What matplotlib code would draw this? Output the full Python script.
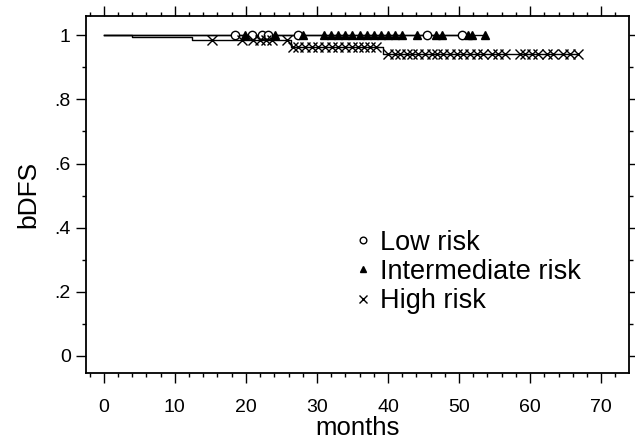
import numpy as np
import matplotlib
matplotlib.use("Agg")
import matplotlib.pyplot as plt
from matplotlib.ticker import MultipleLocator, FixedLocator

# step curves (time of step, survival after step)
low_t = [0, 50.4]
low_s = [1.0, 1.0]
int_t = [0, 53.7]
int_s = [1.0, 1.0]
high_t = [0, 4.0, 12.4, 26.3, 39.3, 66.8]
high_s = [1.0, 0.996, 0.984, 0.962, 0.94, 0.94]

# censored times
low_cens = [18.5, 20.8, 22.3, 23.1, 27.3, 45.5, 50.4]
int_cens = [19.9, 24.1, 28.0, 31.0, 32.0, 33.0, 34.0, 35.0, 36.0, 37.0, 38.0,
            39.0, 40.0, 41.0, 42.0, 44.1, 46.8, 47.6, 51.3, 51.8, 53.7]
high_cens = [15.3, 19.4, 21.0, 22.0, 22.9, 23.7, 25.8, 26.7, 27.3, 28.3, 29.3,
             30.1, 31.1, 32.1, 33.0, 34.0, 34.9, 35.8, 36.6, 37.4, 38.3,
             40.0, 41.0, 41.7, 42.7, 43.4, 44.2, 45.2, 46.2, 46.9, 47.7, 48.7,
             49.7, 50.6, 51.5, 52.5, 53.4, 54.6, 55.5, 56.5, 58.6, 59.3, 60.3,
             61.1, 62.4, 63.2, 64.6, 65.6, 66.8]

labels = ["Low risk", "Intermediate risk", "High risk"]


def surv_at(times, surv, t):
    idx = np.searchsorted(times, t, side="right") - 1
    return np.array(surv)[idx]


plt.rcParams['font.family'] = ['Liberation Sans', 'DejaVu Sans']

fig = plt.figure(figsize=(6.35, 4.44), dpi=100)
ax = fig.add_axes([0.1354, 0.16, 0.855, 0.804])

ax.step(low_t, low_s, where="post", color="black", lw=1.0)
ax.step(int_t, int_s, where="post", color="black", lw=1.0)
ax.step(high_t, high_s, where="post", color="black", lw=1.0)

ax.plot(low_cens, surv_at(low_t, low_s, low_cens), "o", mfc="white",
        mec="black", ms=6, mew=1.0, ls="none", label=labels[0])
ax.plot(int_cens, surv_at(int_t, int_s, int_cens), "^", color="black",
        ms=6, ls="none", label=labels[1])
ax.plot(high_cens, surv_at(high_t, high_s, high_cens), "x", color="black",
        ms=7, mew=1.0, ls="none", label=labels[2])

ax.set_xlim(-2.5, 73.9)
ax.set_ylim(-0.053, 1.06)

ax.xaxis.set_major_locator(MultipleLocator(10))
ax.xaxis.set_minor_locator(MultipleLocator(2))
ax.yaxis.set_major_locator(FixedLocator([0, 0.2, 0.4, 0.6, 0.8, 1.0]))
ax.yaxis.set_minor_locator(MultipleLocator(0.1))
ax.set_yticklabels(["0", ".2", ".4", ".6", ".8", "1"])

ax.tick_params(which="both", direction="out", top=True, right=True,
               width=1.0, color="black")
ax.tick_params(which="major", length=7)
ax.tick_params(which="minor", length=3)
ax.tick_params(axis="x", which="major", pad=12)
ax.tick_params(axis="y", which="major", pad=4)
for lab in ax.get_xticklabels() + ax.get_yticklabels():
    lab.set_family(['Liberation Sans Narrow', 'Liberation Sans'])
    lab.set_fontsize(14)
for sp in ax.spines.values():
    sp.set_linewidth(1.3)

ax.set_xlabel("months", fontsize=18.5, labelpad=0)
ax.set_ylabel("bDFS", fontsize=19, labelpad=10)

leg = ax.legend(loc="upper left", bbox_to_anchor=(0.45, 0.47), frameon=False,
                fontsize=19.5, handlelength=0.6, handletextpad=0.35,
                labelspacing=0.12, markerscale=0.8)

fig.savefig("out.png", dpi=100)
